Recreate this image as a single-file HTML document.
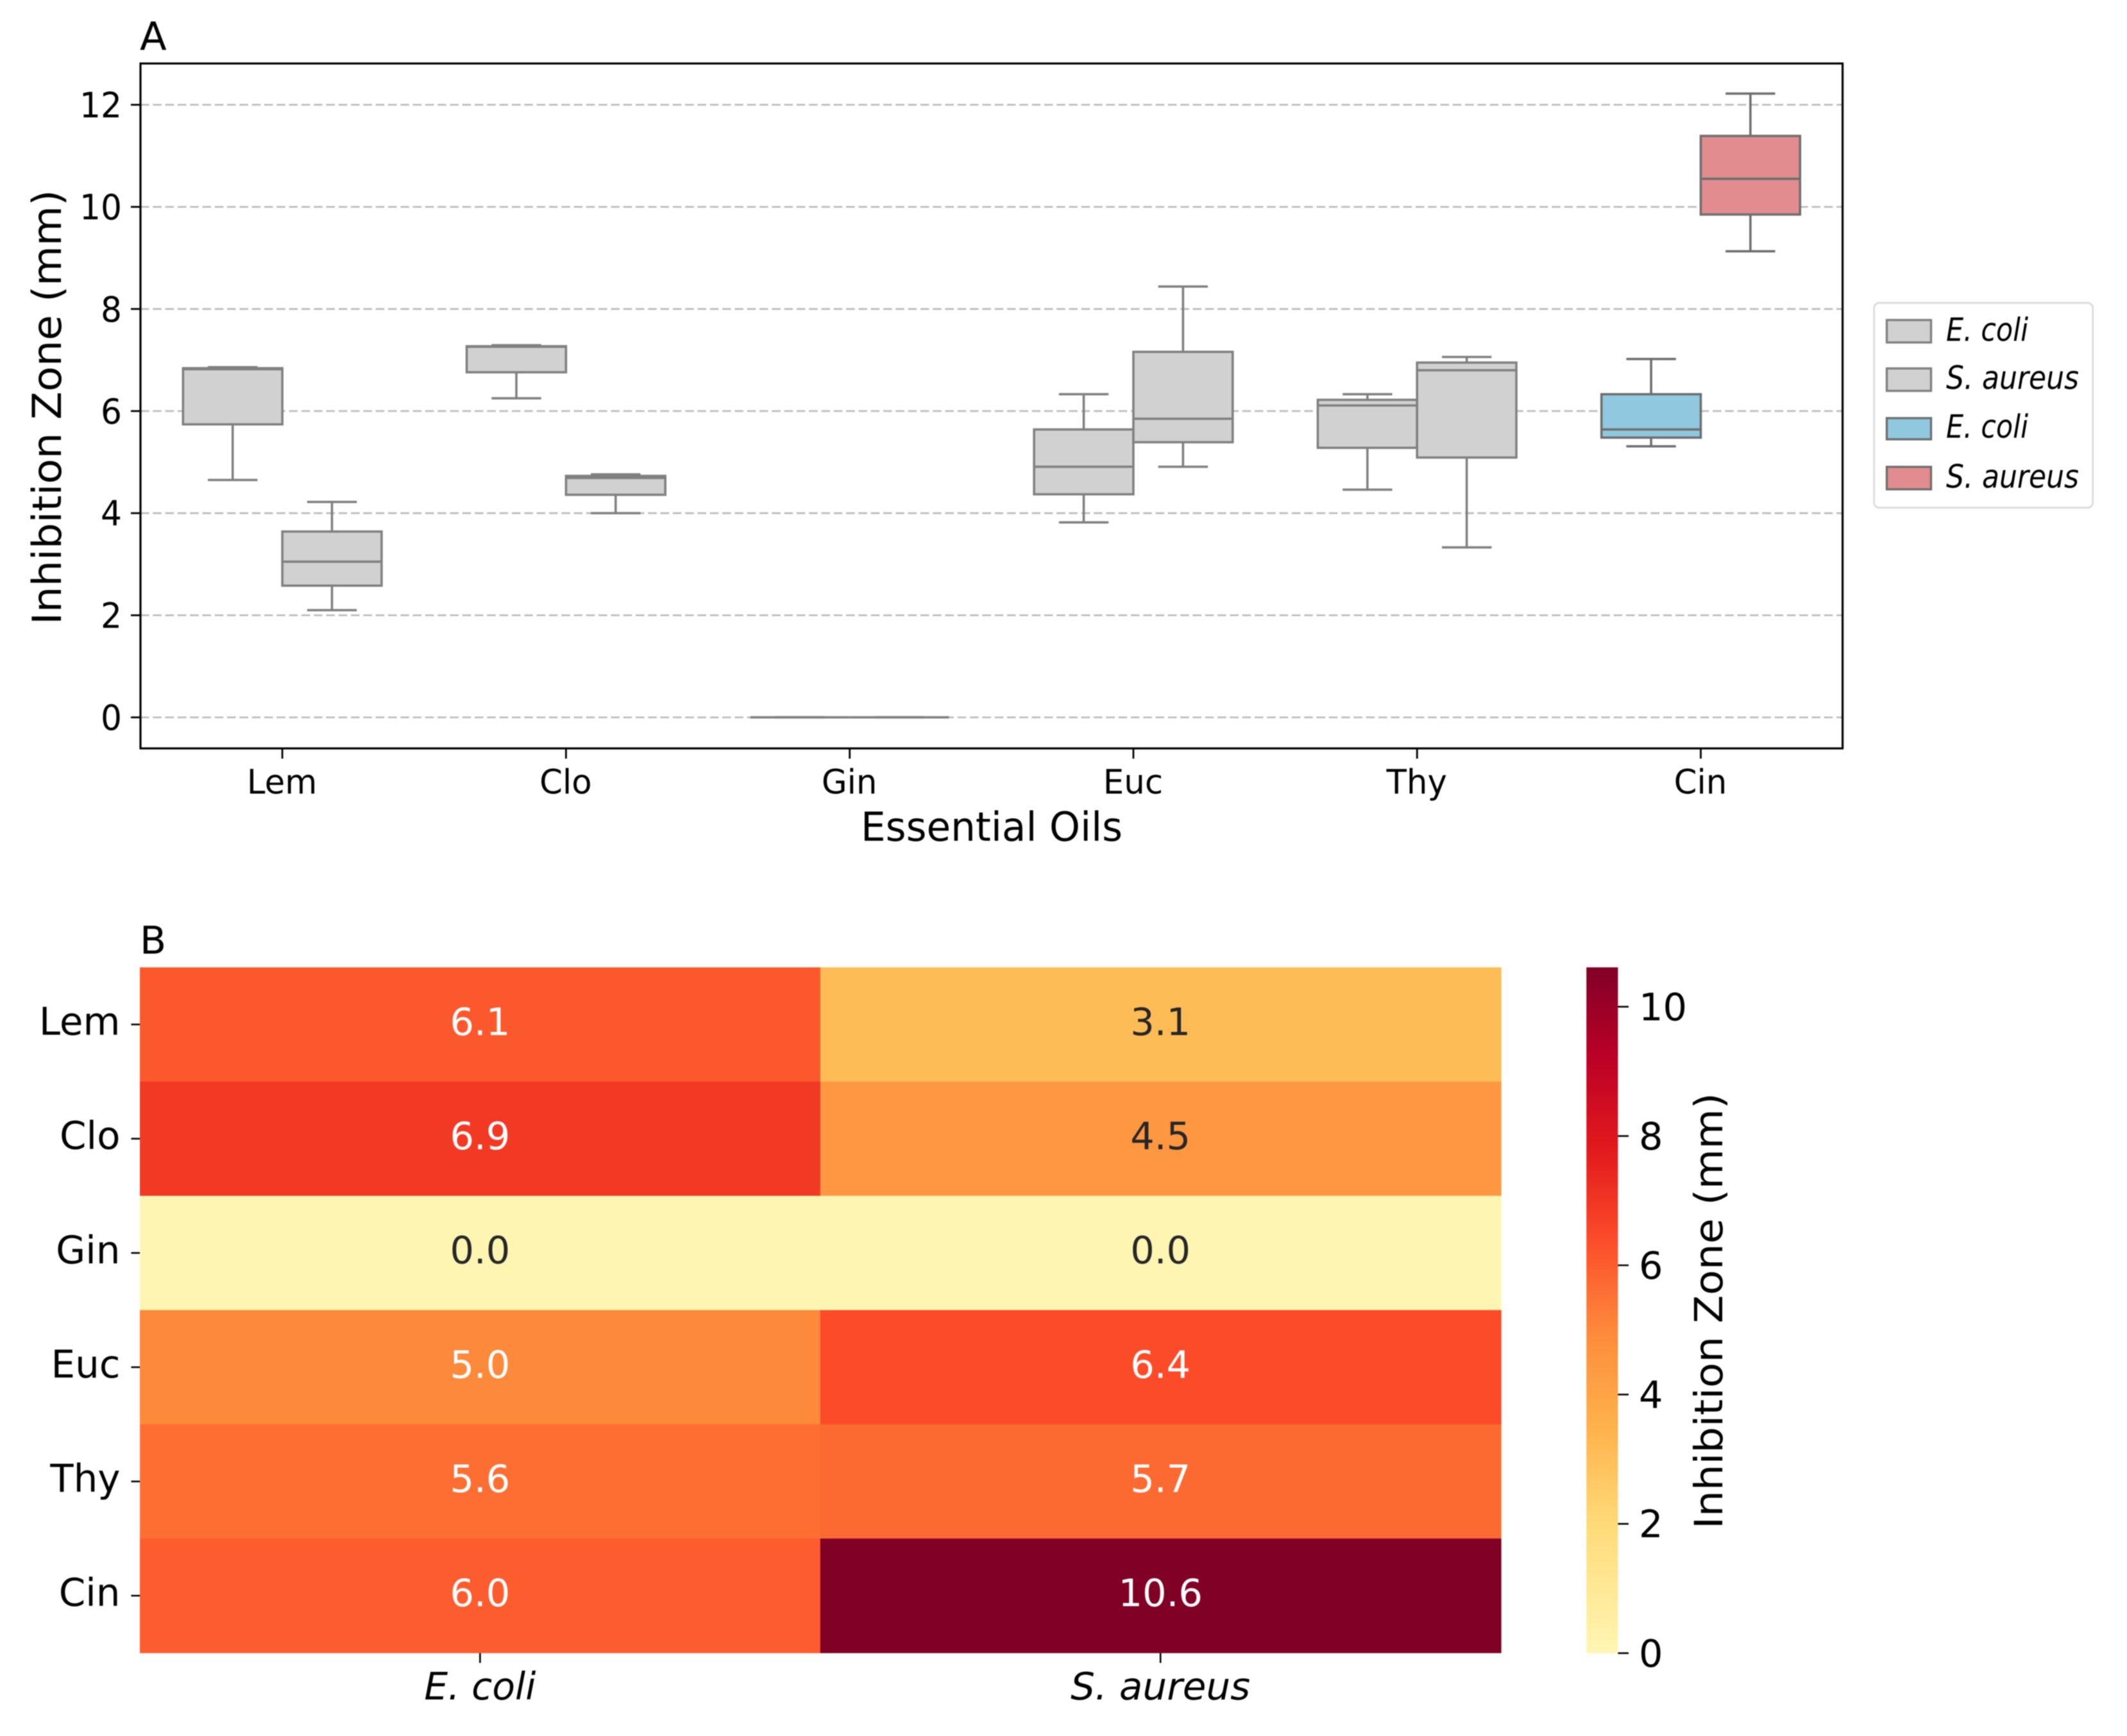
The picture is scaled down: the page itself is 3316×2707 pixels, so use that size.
<!DOCTYPE html>
<html lang="en">
<head>
<meta charset="utf-8">
<title>Inhibition zones of essential oils</title>
<style>
html,body{margin:0;padding:0;background:#fff;width:3316px;height:2707px;overflow:hidden}
svg{display:block;filter:blur(0.9px)}
text{font-family:"DejaVu Sans","Liberation Sans",sans-serif;fill:#000}
</style>
</head>
<body>
<svg id="chart" xmlns="http://www.w3.org/2000/svg" width="3316" height="2707" viewBox="0 0 3316 2707">
  <rect x="0" y="0" width="3316" height="2707" fill="#ffffff"/>
  <g id="panelA">
    <rect x="219" y="99" width="2653.6" height="1068" fill="#ffffff"/>
    <g id="gridA"></g>
    <g id="boxes"></g>
    <rect x="219" y="99" width="2653.6" height="1068" fill="none" stroke="#000000" stroke-width="3.2"/>
    <g id="axisA"></g>
    <text x="218" y="78" font-size="61">A</text>
    <text x="1546" y="1311" font-size="62" text-anchor="middle" textLength="408" lengthAdjust="spacingAndGlyphs">Essential Oils</text>
    <text transform="translate(95 635) rotate(-90)" font-size="62" text-anchor="middle" textLength="678" lengthAdjust="spacingAndGlyphs">Inhibition Zone (mm)</text>
  </g>
  <g id="legend">
    <rect x="2921.7" y="472.3" width="341" height="319.4" rx="8" ry="8" fill="#ffffff" stroke="#dddddd" stroke-width="3"/>
    <g>
      <rect x="2941.5" y="499" width="69" height="35" fill="#d1d1d1" stroke="#808080" stroke-width="3.4"/>
      <text x="3034" y="531.5" font-size="50" font-style="italic" textLength="128" lengthAdjust="spacingAndGlyphs">E. coli</text>
    </g>
    <g>
      <rect x="2941.5" y="574.5" width="69" height="35" fill="#d1d1d1" stroke="#808080" stroke-width="3.4"/>
      <text x="3034" y="606.5" font-size="50" font-style="italic" textLength="207" lengthAdjust="spacingAndGlyphs">S. aureus</text>
    </g>
    <g>
      <rect x="2941.5" y="652" width="69" height="33" fill="#90c8df" stroke="#6e6e6e" stroke-width="3.4"/>
      <text x="3034" y="682.5" font-size="50" font-style="italic" textLength="128" lengthAdjust="spacingAndGlyphs">E. coli</text>
    </g>
    <g>
      <rect x="2941.5" y="728" width="69" height="35" fill="#e28c8f" stroke="#6e6e6e" stroke-width="3.4"/>
      <text x="3034" y="760.5" font-size="50" font-style="italic" textLength="207" lengthAdjust="spacingAndGlyphs">S. aureus</text>
    </g>
  </g>
  <g id="panelB">
    <text x="218" y="1487" font-size="60">B</text>
    <g id="cells"></g>
    <g id="axisB"></g>
  </g>
  <g id="colorbar">
    <defs><linearGradient id="cbGradient" x1="0" y1="1" x2="0" y2="0"></linearGradient></defs>
    <rect x="2473.2" y="1508.4" width="49.2" height="1069.4" fill="url(#cbGradient)"/>
    <g id="cbAxis"></g>
    <text transform="translate(2685 2044) rotate(-90)" font-size="61" text-anchor="middle" textLength="680" lengthAdjust="spacingAndGlyphs">Inhibition Zone (mm)</text>
  </g>
</svg>
<script>
// ---- categories and ticks ----
const oils = ['Lem', 'Clo', 'Gin', 'Euc', 'Thy', 'Cin'];
const strains = ['E. coli', 'S. aureus'];
const boxTicks = [0, 2, 4, 6, 8, 10, 12];
const colorbarTicks = [0, 2, 4, 6, 8, 10];

// ---- box plot values (mm) ----
const ecoliLow    = [4.65, 6.25, 0, 3.82, 4.46, 5.31];
const ecoliQ1     = [5.74, 6.76, 0, 4.37, 5.28, 5.48];
const ecoliMedian = [6.82, 7.26, 0, 4.91, 6.11, 5.64];
const ecoliQ3     = [6.84, 7.27, 0, 5.64, 6.22, 6.33];
const ecoliHigh   = [6.86, 7.29, 0, 6.33, 6.33, 7.02];

const aureusLow    = [2.10, 4.00, 0, 4.91, 3.33, 9.13];
const aureusQ1     = [2.58, 4.36, 0, 5.39, 5.09, 9.85];
const aureusMedian = [3.05, 4.69, 0, 5.85, 6.80, 10.55];
const aureusQ3     = [3.64, 4.73, 0, 7.16, 6.95, 11.39];
const aureusHigh   = [4.22, 4.76, 0, 8.44, 7.06, 12.22];

// ---- heatmap values (mm) ----
const heatEcoli  = [6.1, 6.9, 0.0, 5.0, 5.6, 6.0];
const heatAureus = [3.1, 4.5, 0.0, 6.4, 5.7, 10.6];
const colorMax = 10.6;

// ---- axis functions ----
function xBox(v) { return 219 + (v + 0.5) * 442.27; }
function yBox(v) { return 1118.6 - v * 79.6; }
const boxWidth = 0.35;
function xCell(c) { return 218 + c * 1060.8; }
function yCell(r) { return 1508.4 + r * 178.15; }
function yBar(v) { return 2577.8 - v * 100.8; }

// ---- colour scale ----
const ramp = ['#ffffcc', '#ffeda0', '#fed976', '#feb24c', '#fd8d3c', '#fc4e2a', '#e31a1c', '#bd0026', '#800026'];
function rampRGB(t) {
  const p = Math.max(0, Math.min(1, 0.07 + 0.93 * t)) * (ramp.length - 1);
  const i = Math.min(ramp.length - 2, Math.floor(p));
  const f = p - i;
  const a = ramp[i], b = ramp[i + 1];
  const out = [];
  for (let k = 0; k < 3; k++) {
    const u = parseInt(a.substr(1 + 2 * k, 2), 16);
    const w = parseInt(b.substr(1 + 2 * k, 2), 16);
    out.push(Math.round(u + (w - u) * f));
  }
  return out;
}
function rampCSS(t) { const c = rampRGB(t); return 'rgb(' + c.join(',') + ')'; }
function luminance(c) {
  const l = c.map(function (x) { const s = x / 255; return s <= 0.03928 ? s / 12.92 : Math.pow((s + 0.055) / 1.055, 2.4); });
  return 0.2126 * l[0] + 0.7152 * l[1] + 0.0722 * l[2];
}

// ---- drawing helpers ----
const NS = 'http://www.w3.org/2000/svg';
function mk(parent, tag, props) {
  const el = document.createElementNS(NS, tag);
  for (const k in props) el.setAttribute(k, props[k]);
  parent.appendChild(el);
  return el;
}
function label(parent, x, y, str, size, anchor, fill, squeeze) {
  const el = mk(parent, 'text', { x: x, y: y, 'font-size': size, 'text-anchor': anchor, style: 'fill:' + fill });
  el.textContent = str;
  if (squeeze) {
    el.setAttribute('lengthAdjust', 'spacingAndGlyphs');
    el.setAttribute('textLength', (el.getComputedTextLength() * squeeze).toFixed(1));
  }
  return el;
}
function slug(s) { return s.toLowerCase().replace(/[^a-z0-9]+/g, '-'); }

// ---- box plot gridlines and axes ----
const gridA = document.getElementById('gridA');
const axisA = document.getElementById('axisA');
boxTicks.forEach(function (v) {
  const g = mk(gridA, 'line', { x1: 219, x2: 2872.6, y1: yBox(v), y2: yBox(v), stroke: '#bcbcbc', 'stroke-width': 2.8, 'stroke-dasharray': '13.5 5.8' });
  
  
  const t = mk(axisA, 'line', { x1: 204, x2: 219, y1: yBox(v), y2: yBox(v), stroke: '#000', 'stroke-width': 2.8 });
  
  
  const l = label(axisA, 190, yBox(v) + 19.5, String(v), 54, 'end', '#000', 0.96);
  
  
});
oils.forEach(function (name, i) {
  const t = mk(axisA, 'line', { x1: xBox(i), x2: xBox(i), y1: 1167, y2: 1183, stroke: '#000', 'stroke-width': 2.8 });
  
  
  const l = label(axisA, xBox(i) - 0.5, 1237.5, name, 53, 'middle', '#000', 0.97);
  
  
});

// ---- box plot marks ----
const grayFill = '#d1d1d1', grayEdge = '#808080', darkEdge = '#6e6e6e';
const blueFill = '#90c8df', coralFill = '#e28c8f';
const boxes = document.getElementById('boxes');
function drawBox(i, offset, low, q1, median, q3, high, fill, edge, name) {
  const cx = xBox(i + offset);
  const half = (xBox(boxWidth) - xBox(0)) / 2;
  const g = mk(boxes, 'g', { fill: 'none', stroke: edge, 'stroke-width': 3.6 });
  
  
  const wLow = mk(g, 'line', { x1: cx, x2: cx, y1: yBox(q1), y2: yBox(low) });
  
  
  const wHigh = mk(g, 'line', { x1: cx, x2: cx, y1: yBox(q3), y2: yBox(high) });
  
  
  const cLow = mk(g, 'line', { x1: cx - half / 2, x2: cx + half / 2, y1: yBox(low), y2: yBox(low) });
  
  
  const cHigh = mk(g, 'line', { x1: cx - half / 2, x2: cx + half / 2, y1: yBox(high), y2: yBox(high) });
  
  
  const r = mk(g, 'rect', { x: cx - half, y: yBox(q3), width: half * 2, height: yBox(q1) - yBox(q3), fill: fill });
  
  
  const m = mk(g, 'line', { x1: cx - half, x2: cx + half, y1: yBox(median), y2: yBox(median) });
  
  
}
oils.forEach(function (name, i) {
  const last = i === oils.length - 1;
  drawBox(i, -boxWidth / 2, ecoliLow[i], ecoliQ1[i], ecoliMedian[i], ecoliQ3[i], ecoliHigh[i],
    last ? blueFill : grayFill, last ? darkEdge : grayEdge, 'box-' + slug(name) + '-e-coli');
  drawBox(i, boxWidth / 2, aureusLow[i], aureusQ1[i], aureusMedian[i], aureusQ3[i], aureusHigh[i],
    last ? coralFill : grayFill, last ? darkEdge : grayEdge, 'box-' + slug(name) + '-s-aureus');
});

// ---- heatmap ----
const cells = document.getElementById('cells');
const axisB = document.getElementById('axisB');
[heatEcoli, heatAureus].forEach(function (series, c) {
  series.forEach(function (v, r) {
    const t = v / colorMax;
    const rect = mk(cells, 'rect', { x: xCell(c), y: yCell(r), width: 1061.8, height: 178.65, fill: rampCSS(t) });
    
    
    const dark = luminance(rampRGB(t)) > 0.408;
    const txt = label(cells, xCell(c + 0.5), yCell(r) + 105.5, v.toFixed(1), 59, 'middle', dark ? '#262626' : '#ffffff');
    
    
  });
});
oils.forEach(function (name, r) {
  const y = yCell(r + 0.5);
  const t = mk(axisB, 'line', { x1: 204.5, x2: 218, y1: y, y2: y, stroke: '#000', 'stroke-width': 2.6 });
  
  
  const l = label(axisB, 187.5, y + 16, name, 59.5, 'end', '#000');
  
  
});
strains.forEach(function (name, c) {
  const x = xCell(c + 0.5);
  const t = mk(axisB, 'line', { x1: x, x2: x, y1: 2577.8, y2: 2593, stroke: '#000', 'stroke-width': 2.6 });
  
  
  const l = label(axisB, x, 2650, name, 59, 'middle', '#000');
  l.setAttribute('font-style', 'italic');
  l.setAttribute('lengthAdjust', 'spacingAndGlyphs');
  l.setAttribute('textLength', c === 0 ? '174' : '280');
  
  
});

// ---- colorbar ----
const grad = document.getElementById('cbGradient');
for (let s = 0; s <= 40; s++) {
  mk(grad, 'stop', { offset: s / 40, 'stop-color': rampCSS(s / 40) });
}
const cbAxis = document.getElementById('cbAxis');
colorbarTicks.forEach(function (v) {
  const y = yBar(v);
  const t = mk(cbAxis, 'line', { x1: 2522.4, x2: 2539, y1: y, y2: y, stroke: '#000', 'stroke-width': 2.6 });
  
  
  const l = label(cbAxis, 2555, y + 21, String(v), 59, 'start', '#000');
  
  
});
</script>
</body>
</html>
